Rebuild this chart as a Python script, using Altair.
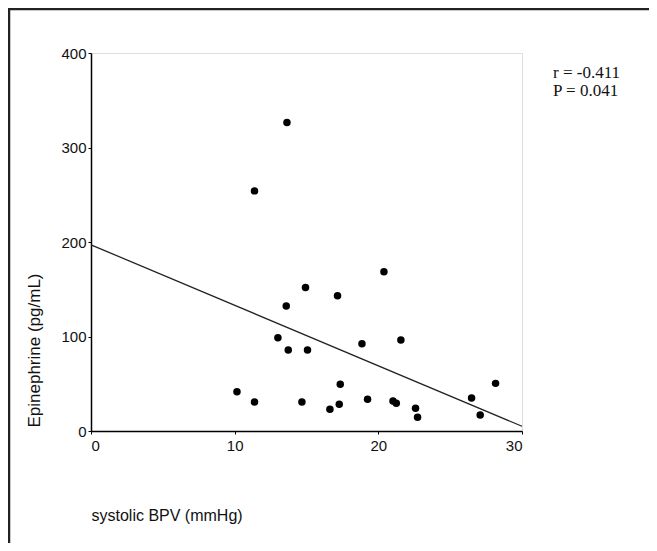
import altair as alt
import pandas as pd

# Scatter data: systolic BPV (mmHg) vs Epinephrine (pg/mL)
bpv = [13.64, 11.38, 14.93, 13.59, 13.01, 13.73, 15.07, 10.16, 11.38, 14.68,
       17.16, 20.39, 18.86, 21.57, 17.35, 16.63, 17.28, 19.25, 21.02, 21.25,
       22.59, 22.73, 26.49, 27.09, 28.16]
epi = [326.4, 254.1, 151.9, 132.2, 98.6, 85.6, 85.6, 41.6, 30.7, 30.7,
       143.1, 168.4, 92.3, 96.2, 49.4, 22.9, 28.2, 33.5, 31.7, 29.3,
       24.0, 14.5, 34.9, 16.9, 50.4]

# Regression line endpoints
line_x = [0, 30]
line_y = [197, 5]

x_ticks = [0, 10, 20, 30]
y_ticks = [0, 100, 200, 300, 400]
stats_text = ["r = -0.411", "P = 0.041"]

pts = pd.DataFrame({"bpv": bpv, "epi": epi})
reg = pd.DataFrame({"bpv": line_x, "epi": line_y})
ann = pd.DataFrame({"t": ["\n".join(stats_text)]})

W, H = 431, 378
PL, PT, PR, PB = 83, 45, 641 - 83 - 431, 535 - 45 - 378

xscale = alt.Scale(domain=[0, 30], nice=False, zero=False)
yscale = alt.Scale(domain=[0, 400], nice=False)

xaxis = alt.Axis(values=x_ticks, title="systolic BPV (mmHg)", grid=False,
                 tickSize=3, tickColor="black", domainColor="black", domainWidth=1.5,
                 labelFont="Liberation Sans", labelFontSize=15, labelColor="#111",
                 labelPadding=4,
                 titleFont="Liberation Sans", titleFontSize=16, titleFontWeight="normal",
                 titleColor="#111", titleX=0, titleY=84, titleAlign="left",
                 titleBaseline="middle")
yaxis = alt.Axis(values=y_ticks, title="Epinephrine (pg/mL)", grid=False,
                 tickSize=3, tickColor="black", domainColor="black", domainWidth=1.5,
                 labelFont="Liberation Sans", labelFontSize=15, labelColor="#111",
                 labelPadding=2,
                 titleFont="Liberation Sans", titleFontSize=17, titleFontWeight="normal",
                 titleColor="#111", titleX=-57, titleY=297, titleAngle=270,
                 titleAlign="center", titleBaseline="middle")

points = alt.Chart(pts).mark_point(filled=True, color="black", size=56, opacity=1).encode(
    x=alt.X("bpv:Q", scale=xscale, axis=xaxis),
    y=alt.Y("epi:Q", scale=yscale, axis=yaxis),
)

line = alt.Chart(reg).mark_line(color="#222", strokeWidth=1.3).encode(
    x=alt.X("bpv:Q", scale=xscale),
    y=alt.Y("epi:Q", scale=yscale),
)

annot = alt.Chart(ann).mark_text(
    font="Liberation Serif", fontSize=17, align="left", baseline="middle",
    lineBreak="\n", lineHeight=18, color="#111"
).encode(text="t:N", x=alt.value(462), y=alt.value(20))

frame_left = alt.Chart(ann).mark_rule(color="#222", strokeWidth=2.5).encode(
    x=alt.value(-82), y=alt.value(-44), y2=alt.value(H + PB))
frame_top = alt.Chart(ann).mark_rule(color="#222", strokeWidth=2.5).encode(
    x=alt.value(-83), x2=alt.value(W + PR), y=alt.value(-44))

chart = alt.layer(frame_left, frame_top, line, points, annot).properties(
    width=W, height=H,
    autosize=alt.AutoSizeParams(type="none"),
    padding={"left": PL, "top": PT, "right": PR, "bottom": PB},
).configure_view(stroke="black", strokeWidth=1.5).configure(background="white")

chart.save("out.html", embed_options={"renderer": "svg", "actions": False})
